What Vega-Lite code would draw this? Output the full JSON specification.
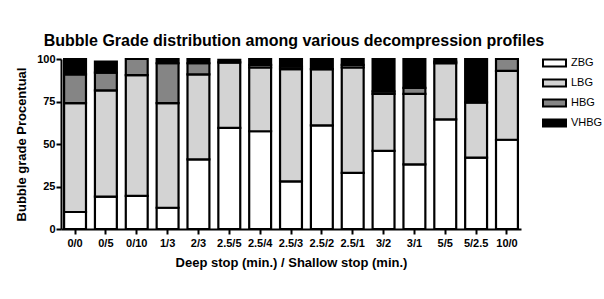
{
  "$schema": "https://vega.github.io/schema/vega-lite/v6.json",
  "width": 460,
  "height": 170,
  "autosize": {"type": "none"},
  "padding": {"left": 61, "top": 59, "right": 83, "bottom": 70},
  "background": "white",
  "title": {
    "text": "Bubble Grade distribution among various decompression profiles",
    "font": "Liberation Sans",
    "fontSize": 16,
    "fontWeight": "bold",
    "color": "black",
    "anchor": "middle",
    "dx": 3,
    "offset": 2
  },
  "data": {
    "values": [
      {"profile": "0/0", "grade": "ZBG", "o": 1, "value": 10},
      {"profile": "0/0", "grade": "LBG", "o": 2, "value": 64},
      {"profile": "0/0", "grade": "HBG", "o": 3, "value": 17},
      {"profile": "0/0", "grade": "VHBG", "o": 4, "value": 9},
      {"profile": "0/5", "grade": "ZBG", "o": 1, "value": 19},
      {"profile": "0/5", "grade": "LBG", "o": 2, "value": 62.5},
      {"profile": "0/5", "grade": "HBG", "o": 3, "value": 10.5},
      {"profile": "0/5", "grade": "VHBG", "o": 4, "value": 6.5},
      {"profile": "0/10", "grade": "ZBG", "o": 1, "value": 19.5},
      {"profile": "0/10", "grade": "LBG", "o": 2, "value": 71},
      {"profile": "0/10", "grade": "HBG", "o": 3, "value": 9.5},
      {"profile": "0/10", "grade": "VHBG", "o": 4, "value": 0},
      {"profile": "1/3", "grade": "ZBG", "o": 1, "value": 12.5},
      {"profile": "1/3", "grade": "LBG", "o": 2, "value": 61.5},
      {"profile": "1/3", "grade": "HBG", "o": 3, "value": 23.5},
      {"profile": "1/3", "grade": "VHBG", "o": 4, "value": 2.5},
      {"profile": "2/3", "grade": "ZBG", "o": 1, "value": 41},
      {"profile": "2/3", "grade": "LBG", "o": 2, "value": 50},
      {"profile": "2/3", "grade": "HBG", "o": 3, "value": 6.5},
      {"profile": "2/3", "grade": "VHBG", "o": 4, "value": 2.5},
      {"profile": "2.5/5", "grade": "ZBG", "o": 1, "value": 59.5},
      {"profile": "2.5/5", "grade": "LBG", "o": 2, "value": 38.5},
      {"profile": "2.5/5", "grade": "HBG", "o": 3, "value": 0},
      {"profile": "2.5/5", "grade": "VHBG", "o": 4, "value": 1.5},
      {"profile": "2.5/4", "grade": "ZBG", "o": 1, "value": 57.5},
      {"profile": "2.5/4", "grade": "LBG", "o": 2, "value": 37.5},
      {"profile": "2.5/4", "grade": "HBG", "o": 3, "value": 1.5},
      {"profile": "2.5/4", "grade": "VHBG", "o": 4, "value": 3.5},
      {"profile": "2.5/3", "grade": "ZBG", "o": 1, "value": 28},
      {"profile": "2.5/3", "grade": "LBG", "o": 2, "value": 66},
      {"profile": "2.5/3", "grade": "HBG", "o": 3, "value": 1.5},
      {"profile": "2.5/3", "grade": "VHBG", "o": 4, "value": 4.5},
      {"profile": "2.5/2", "grade": "ZBG", "o": 1, "value": 61},
      {"profile": "2.5/2", "grade": "LBG", "o": 2, "value": 33},
      {"profile": "2.5/2", "grade": "HBG", "o": 3, "value": 0},
      {"profile": "2.5/2", "grade": "VHBG", "o": 4, "value": 6},
      {"profile": "2.5/1", "grade": "ZBG", "o": 1, "value": 33},
      {"profile": "2.5/1", "grade": "LBG", "o": 2, "value": 62},
      {"profile": "2.5/1", "grade": "HBG", "o": 3, "value": 1.5},
      {"profile": "2.5/1", "grade": "VHBG", "o": 4, "value": 3.5},
      {"profile": "3/2", "grade": "ZBG", "o": 1, "value": 46},
      {"profile": "3/2", "grade": "LBG", "o": 2, "value": 33.5},
      {"profile": "3/2", "grade": "HBG", "o": 3, "value": 1.5},
      {"profile": "3/2", "grade": "VHBG", "o": 4, "value": 19},
      {"profile": "3/1", "grade": "ZBG", "o": 1, "value": 38},
      {"profile": "3/1", "grade": "LBG", "o": 2, "value": 41.5},
      {"profile": "3/1", "grade": "HBG", "o": 3, "value": 3.5},
      {"profile": "3/1", "grade": "VHBG", "o": 4, "value": 17},
      {"profile": "5/5", "grade": "ZBG", "o": 1, "value": 64.5},
      {"profile": "5/5", "grade": "LBG", "o": 2, "value": 33},
      {"profile": "5/5", "grade": "HBG", "o": 3, "value": 1},
      {"profile": "5/5", "grade": "VHBG", "o": 4, "value": 1.5},
      {"profile": "5/2.5", "grade": "ZBG", "o": 1, "value": 42},
      {"profile": "5/2.5", "grade": "LBG", "o": 2, "value": 32.5},
      {"profile": "5/2.5", "grade": "HBG", "o": 3, "value": 0},
      {"profile": "5/2.5", "grade": "VHBG", "o": 4, "value": 25.5},
      {"profile": "10/0", "grade": "ZBG", "o": 1, "value": 52.5},
      {"profile": "10/0", "grade": "LBG", "o": 2, "value": 40.5},
      {"profile": "10/0", "grade": "HBG", "o": 3, "value": 7},
      {"profile": "10/0", "grade": "VHBG", "o": 4, "value": 0}
    ]
  },
  "mark": {"type": "bar", "stroke": "black", "strokeWidth": 2.2},
  "encoding": {
    "x": {
      "field": "profile",
      "type": "nominal",
      "sort": null,
      "scale": {"paddingInner": 0.29, "paddingOuter": 0.1},
      "axis": {
        "title": "Deep stop (min.) / Shallow stop (min.)",
        "labelAngle": 0,
        "labelFont": "Liberation Sans",
        "labelFontSize": 11,
        "labelFontWeight": "bold",
        "labelColor": "black",
        "labelPadding": 3,
        "titleFont": "Liberation Sans",
        "titleFontSize": 13,
        "titleFontWeight": "bold",
        "titleColor": "black",
        "titlePadding": 8,
        "domainColor": "black",
        "domainWidth": 2,
        "tickColor": "black",
        "tickWidth": 2,
        "tickSize": 5
      }
    },
    "y": {
      "field": "value",
      "type": "quantitative",
      "stack": "zero",
      "scale": {"domain": [0, 100], "nice": false},
      "axis": {
        "title": "Bubble grade Procentual",
        "values": [0, 25, 50, 75, 100],
        "grid": false,
        "labelFont": "Liberation Sans",
        "labelFontSize": 11,
        "labelFontWeight": "bold",
        "labelColor": "black",
        "labelPadding": 1,
        "titleFont": "Liberation Sans",
        "titleFontSize": 13,
        "titleFontWeight": "bold",
        "titleColor": "black",
        "titlePadding": 8,
        "domainColor": "black",
        "domainWidth": 2,
        "tickColor": "black",
        "tickWidth": 2,
        "tickSize": 5
      }
    },
    "color": {
      "field": "grade",
      "type": "nominal",
      "scale": {
        "domain": ["ZBG", "LBG", "HBG", "VHBG"],
        "range": ["#ffffff", "#d3d3d3", "#858585", "#000000"]
      },
      "legend": {
        "title": null,
        "orient": "none",
        "legendX": 481,
        "legendY": -8.5,
        "padding": 0,
        "symbolType": "M-1,-0.3H1V0.3H-1Z",
        "symbolSize": 529,
        "symbolStrokeColor": "black",
        "symbolStrokeWidth": 2,
        "symbolOpacity": 1,
        "labelFont": "Liberation Sans",
        "labelFontSize": 11,
        "labelColor": "black",
        "labelOffset": 4,
        "rowPadding": -3.5
      }
    },
    "order": {"field": "o", "type": "quantitative"}
  },
  "config": {
    "view": {"stroke": null},
    "axis": {"labelOverlap": false}
  }
}
